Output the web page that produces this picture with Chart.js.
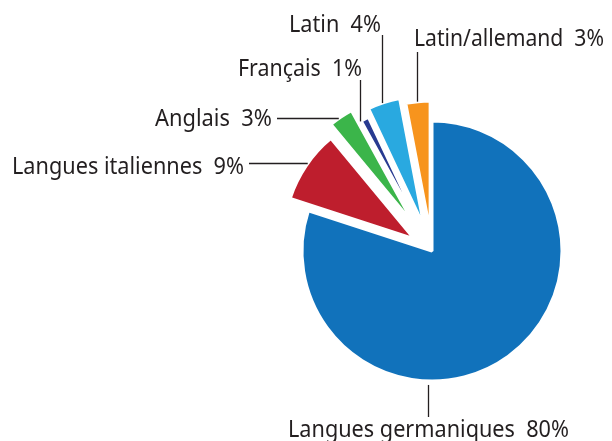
<!DOCTYPE html>
<html>
<head>
<meta charset="utf-8">
<script src="https://cdn.jsdelivr.net/npm/chart.js@4"></script>
<style>
  html, body { margin: 0; padding: 0; background: #fff; }
</style>
</head>
<body>
<canvas id="chart" width="612" height="441"></canvas>
<script>
const labels = ['Langues germaniques', 'Langues italiennes', 'Anglais', 'Français', 'Latin', 'Latin/allemand'];
const values = [80, 9, 3, 1, 4, 3];
const colors = ['#1172bb', '#be1e2d', '#3bb54a', '#283a90', '#29a9e0', '#f7941d'];
// how far each slice is pulled out of the pie, px
const explode = [0, 22, 32, 18, 26, 20];

// label placement: text left/baseline, max width, leader line (vertical at x / horizontal at y)
const labelLayout = [
  { x: 288, y: 437, w: 281, line: { dir: 'v', at: 428, from: 417 } },
  { x: 12,  y: 174, w: 232, line: { dir: 'h', at: 163, from: 249 } },
  { x: 155, y: 126, w: 117, line: { dir: 'h', at: 118, from: 277 } },
  { x: 238, y: 76,  w: 124, line: { dir: 'v', at: 360, from: 80 } },
  { x: 289, y: 32,  w: 92,  line: { dir: 'v', at: 382, from: 35 } },
  { x: 414, y: 46,  w: 190, line: { dir: 'v', at: 417, from: 52 } }
];

const explodePlugin = {
  id: 'explode',
  afterDatasetsUpdate(chart) {
    chart.getDatasetMeta(0).data.forEach((arc, i) => {
      const mid = (arc.startAngle + arc.endAngle) / 2;
      arc.x += Math.cos(mid) * explode[i];
      arc.y += Math.sin(mid) * explode[i];
    });
  }
};

const calloutPlugin = {
  id: 'callouts',
  afterDraw(chart) {
    const ctx = chart.ctx;
    const arcs = chart.getDatasetMeta(0).data;
    ctx.save();
    ctx.fillStyle = '#231f20';
    ctx.strokeStyle = '#231f20';
    ctx.lineWidth = 1.3;
    ctx.font = '24px "Noto Sans", sans-serif';
    ctx.textBaseline = 'alphabetic';
    ctx.textAlign = 'left';
    arcs.forEach((arc, i) => {
      const L = labelLayout[i];
      ctx.fillText(labels[i] + '  ' + values[i] + '%', L.x, L.y, L.w);
      const cx = arc.x, cy = arc.y;
      const R = arc.outerRadius;
      let x1, y1, x2, y2;
      if (L.line.dir === 'v') {
        x1 = x2 = L.line.at + 0.5;
        y1 = L.line.from;
        const d = Math.sqrt(Math.max(R * R - (x1 - cx) ** 2, 0));
        y2 = y1 > cy ? cy + d + 4 : cy - d;
      } else {
        y1 = y2 = L.line.at + 0.5;
        x1 = L.line.from;
        const d = Math.sqrt(Math.max(R * R - (y1 - cy) ** 2, 0));
        x2 = cx - d;
      }
      ctx.beginPath();
      ctx.moveTo(x1, y1);
      ctx.lineTo(x2, y2);
      ctx.stroke();
    });
    ctx.restore();
  }
};

new Chart(document.getElementById('chart'), {
  type: 'pie',
  data: {
    labels: labels,
    datasets: [{
      data: values,
      backgroundColor: colors,
      borderColor: '#ffffff',
      borderWidth: 3,
      radius: 130
    }]
  },
  options: {
    responsive: false,
    animation: false,
    layout: { padding: { left: 252, top: 61, right: 0, bottom: 0 } },
    plugins: { legend: { display: false }, tooltip: { enabled: false } }
  },
  plugins: [explodePlugin, calloutPlugin]
});
</script>
</body>
</html>
